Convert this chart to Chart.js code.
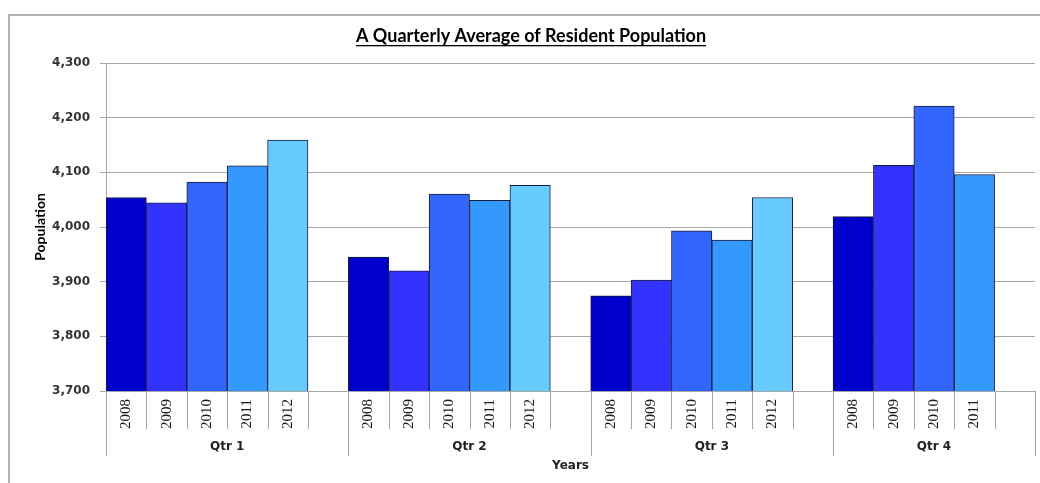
<!DOCTYPE html>
<html>
<head>
<meta charset="utf-8">
<title>A Quarterly Average of Resident Population</title>
<script src="https://cdn.jsdelivr.net/npm/chart.js@4.4.1/dist/chart.umd.min.js"></script>
<style>
  body { margin: 0; background: #fff; }
  #wrap { position: relative; width: 1040px; height: 483px; }
</style>
</head>
<body>
<div id="wrap"><canvas id="popChart" width="1040" height="483"></canvas></div>
<script>
// data
var quarters = ["Qtr 1", "Qtr 2", "Qtr 3", "Qtr 4"];
var years = ["2008", "2009", "2010", "2011", "2012"];
var qtr1 = [4054, 4044, 4082, 4112, 4159];
var qtr2 = [3945, 3920, 4060, 4049, 4076];
var qtr3 = [3874, 3903, 3993, 3976, 4054];
var qtr4 = [4019, 4113, 4221, 4096];
var yTicks = [3700, 3800, 3900, 4000, 4100, 4200, 4300];

var yearColors = {
  "2008": "#0000cc",
  "2009": "#3333ff",
  "2010": "#3366ff",
  "2011": "#3399ff",
  "2012": "#66ccff"
};

// one slot per year, plus an empty slot closing each quarter
var slotLabels = [], slotValues = [], slotColors = [], slotGroup = [];
[qtr1, qtr2, qtr3, qtr4].forEach(function (vals, q) {
  vals.forEach(function (v, i) {
    slotLabels.push(years[i]);
    slotValues.push(v);
    slotColors.push(yearColors[years[i]]);
    slotGroup.push(q);
  });
  slotLabels.push("");
  slotValues.push(null);
  slotColors.push("#ffffff");
  slotGroup.push(q);
});

var sepColor = "#a6a6a6";

var decorations = {
  id: "decorations",
  beforeDraw: function (chart) {
    var ctx = chart.ctx;
    ctx.save();
    ctx.fillStyle = "#fff";
    ctx.fillRect(0, 0, chart.width, chart.height);
    // outer frame
    ctx.strokeStyle = "#b4b4b4";
    ctx.lineWidth = 2;
    ctx.beginPath();
    ctx.moveTo(9, chart.height);
    ctx.lineTo(9, 15);
    ctx.lineTo(chart.width, 15);
    ctx.stroke();
    ctx.restore();
  },
  afterDraw: function (chart) {
    var ctx = chart.ctx;
    var x = chart.scales.x;
    var area = chart.chartArea;
    var step = x.getPixelForValue(1) - x.getPixelForValue(0);
    ctx.save();

    // title, underlined
    ctx.font = "bold 18px Lato";
    ctx.fillStyle = "#000";
    ctx.textAlign = "center";
    ctx.textBaseline = "middle";
    var title = "A Quarterly Average of Resident Population";
    ctx.fillText(title, 531, 36);
    var tw = ctx.measureText(title).width;
    ctx.fillRect(531 - tw / 2, 45, tw, 1.3);

    // y axis title
    ctx.save();
    ctx.translate(40, 227);
    ctx.rotate(-Math.PI / 2);
    ctx.font = "bold 14px Lato";
    ctx.fillText("Population", 0, 0);
    ctx.restore();

    // separators under the axis
    ctx.strokeStyle = sepColor;
    ctx.lineWidth = 1;
    for (var i = 0; i <= slotLabels.length; i++) {
      var bx = Math.round(x.getPixelForValue(0) - step / 2 + i * step) + 0.5;
      var isGroupEdge = i === 0 || i === slotLabels.length || slotLabels[i - 1] === "";
      ctx.beginPath();
      ctx.moveTo(bx, area.bottom);
      ctx.lineTo(bx, isGroupEdge ? 456 : 429);
      ctx.stroke();
    }

    // year labels, rotated
    ctx.fillStyle = "#1a1a1a";
    ctx.font = "15px 'Liberation Serif'";
    slotLabels.forEach(function (lab, i) {
      if (!lab) return;
      ctx.save();
      ctx.translate(x.getPixelForValue(i), 399);
      ctx.rotate(-Math.PI / 2);
      ctx.textAlign = "right";
      ctx.textBaseline = "middle";
      ctx.fillText(lab, 0, 0);
      ctx.restore();
    });

    // quarter labels
    ctx.font = "bold 12px 'DejaVu Sans'";
    ctx.fillStyle = "#222";
    ctx.textAlign = "center";
    ctx.textBaseline = "middle";
    quarters.forEach(function (q, qi) {
      var first = slotGroup.indexOf(qi);
      var last = slotGroup.lastIndexOf(qi);
      var cx = (x.getPixelForValue(first) + x.getPixelForValue(last)) / 2;
      ctx.fillText(q, cx, 447);
    });

    // x axis title
    ctx.fillText("Years", (area.left + area.right) / 2, 466);
    ctx.restore();
  }
};

new Chart(document.getElementById("popChart"), {
  type: "bar",
  data: {
    labels: slotLabels,
    datasets: [
      {
        label: "Population",
        data: slotValues,
        backgroundColor: slotColors,
        borderColor: "#1c1c3a",
        borderWidth: 1,
        barPercentage: 1,
        categoryPercentage: 1
      }
    ]
  },
  options: {
    responsive: false,
    animation: false,
    layout: { padding: { top: 63, right: 5, left: 0, bottom: 0 } },
    plugins: {
      legend: { display: false },
      title: { display: false },
      tooltip: { enabled: false }
    },
    scales: {
      x: {
        offset: true,
        grid: { display: false },
        border: { display: true, color: sepColor, width: 1 },
        ticks: { display: false },
        afterFit: function (s) { s.height = 92; }
      },
      y: {
        min: yTicks[0],
        max: yTicks[yTicks.length - 1],
        afterBuildTicks: function (s) {
          s.ticks = yTicks.map(function (v) { return { value: v }; });
        },
        grid: { color: sepColor, tickLength: 6 },
        border: { display: true, color: sepColor },
        ticks: {
          padding: 10,
          color: "#333",
          font: { family: "DejaVu Sans", size: 12, weight: "bold" },
          callback: function (v) { return v.toLocaleString("en-US"); }
        },
        afterFit: function (s) { s.width = 106; }
      }
    }
  },
  plugins: [decorations]
});
</script>
</body>
</html>
